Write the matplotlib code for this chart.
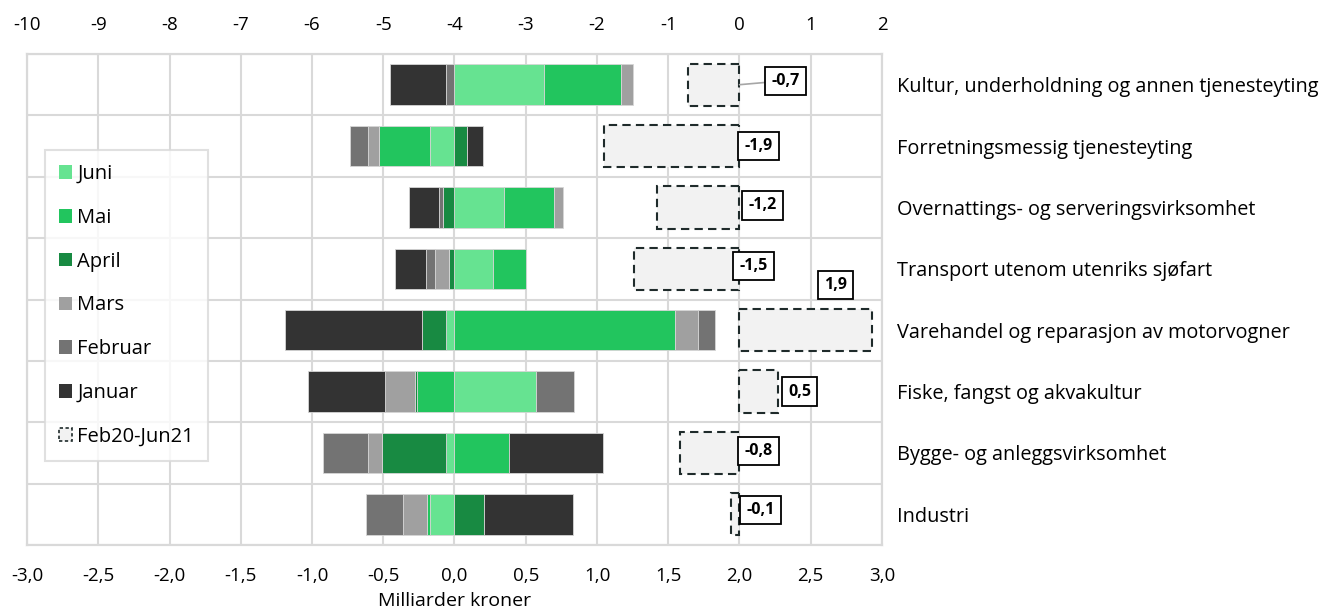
import numpy as np
import matplotlib
matplotlib.use('Agg')
from matplotlib import pyplot as plt
from matplotlib.patches import Patch
from matplotlib.ticker import FuncFormatter, MultipleLocator

plt.rcParams["font.family"] = ["Open Sans", "DejaVu Sans"]

categories = [
    "Kultur, underholdning og annen tjenesteyting",
    "Forretningsmessig tjenesteyting",
    "Overnattings- og serveringsvirksomhet",
    "Transport utenom utenriks sjøfart",
    "Varehandel og reparasjon av motorvogner",
    "Fiske, fangst og akvakultur",
    "Bygge- og anleggsvirksomhet",
    "Industri",
]

# monthly changes, billion NOK (stacked in this order)
juni    = [0.63, -0.17, 0.35, 0.27, -0.06, 0.57, -0.06, -0.17]
mai     = [0.54, -0.36, 0.35, 0.23, 1.55, -0.26, 0.38, -0.02]
april   = [0.00, 0.09, -0.08, -0.04, -0.17, -0.02, -0.45, 0.21]
mars    = [0.08, -0.08, 0.06, -0.10, 0.16, -0.21, -0.10, -0.17]
februar = [-0.06, -0.12, -0.03, -0.06, 0.12, 0.27, -0.31, -0.26]
januar  = [-0.39, 0.11, -0.21, -0.22, -0.96, -0.54, 0.66, 0.62]

# accumulated change Feb20-Jun21 (top axis)
total = [-0.72, -1.90, -1.16, -1.48, 1.86, 0.54, -0.83, -0.12]

series = [
    ("Juni", juni, "#66e391"),
    ("Mai", mai, "#22c55e"),
    ("April", april, "#188a42"),
    ("Mars", mars, "#a0a0a0"),
    ("Februar", februar, "#737373"),
    ("Januar", januar, "#333333"),
]

grid_col = "#d9d9d9"
box_fill = "#f2f2f2"
box_edge = "#1f2b2b"

fig = plt.figure(figsize=(13.25, 6.1), dpi=100)
ax = fig.add_axes([27 / 1325, 1 - 545 / 610, 855 / 1325, 491 / 610])
ax2 = ax.twiny()

y = np.arange(len(categories))
h = 0.66

pos_left = np.zeros(len(categories))
neg_left = np.zeros(len(categories))
for name, vals, col in series:
    vals = np.array(vals)
    left = np.where(vals >= 0, pos_left, neg_left)
    ax.barh(y, vals, left=left, height=h, color=col, edgecolor="#d6d6d6",
            linewidth=0.6, zorder=3)
    pos_left += np.clip(vals, 0, None)
    neg_left += np.clip(vals, None, 0)

ax2.barh(y, total, height=0.69, color=box_fill, edgecolor=box_edge,
         linewidth=1.5, linestyle=(0, (4, 2.5)), zorder=3)

# value boxes for the accumulated change (pixel offsets, y up)
label_offsets = [(32, 4), (5, 0), (9, 2), (0, 3), (-37, 45), (10, 0), (5, 2), (7, 4)]
for i, v in enumerate(total):
    dx, dy = label_offsets[i]
    ha = "center" if dy > 30 else "left"
    arrow = None
    if i == 0:
        arrow = dict(arrowstyle="-", color="#a6a6a6", lw=1.2,
                     shrinkA=0, shrinkB=0)
    ax2.annotate(f"{v:.1f}".replace(".", ","), xy=(max(v, 0), i),
                 xytext=(dx, dy), textcoords="offset pixels",
                 ha=ha, va="center", fontsize=11.5, fontweight="bold",
                 arrowprops=arrow, zorder=5,
                 bbox=dict(boxstyle="square,pad=0.38", fc="white",
                           ec="black", lw=1.3))

ax.set_xlim(-3, 3)
ax2.set_xlim(-10, 2)
ax.set_ylim(len(categories) - 0.5, -0.5)

ax.xaxis.set_major_locator(MultipleLocator(0.5))
ax.xaxis.set_major_formatter(FuncFormatter(lambda v, p: f"{v:.1f}".replace(".", ",")))
ax2.xaxis.set_major_locator(MultipleLocator(1))
ax2.xaxis.set_major_formatter(FuncFormatter(lambda v, p: f"{v:.0f}"))

ax.set_xticks(np.arange(-3, 3.01, 0.5))
ax.set_yticks(y)
ax.set_yticklabels(categories)
ax.yaxis.tick_right()
ax.set_yticks(np.arange(-0.5, len(categories), 1), minor=True)
ax.tick_params(axis="y", which="both", length=0, pad=11, labelsize=14.3, colors="#000000")
ax.tick_params(axis="x", length=0, pad=16, labelsize=13.5)
ax2.tick_params(axis="x", length=0, pad=14.5, labelsize=13.5)

ax.grid(axis="x", color=grid_col, lw=1.5, zorder=0)
ax.grid(axis="y", which="minor", color=grid_col, lw=1.5, zorder=0)
ax.grid(axis="y", which="major", visible=False)
ax2.grid(False)
for a in (ax, ax2):
    for s in a.spines.values():
        s.set_color(grid_col)
        s.set_linewidth(1.5)

ax.set_xlabel("Milliarder kroner", fontsize=14, labelpad=5)

handles = [Patch(facecolor=c, edgecolor="none", label=n) for n, _, c in series]
handles.append(Patch(facecolor=box_fill, edgecolor=box_edge, linestyle=(0, (2, 1.5)),
                     linewidth=1.2, label="Feb20-Jun21"))
leg = fig.legend(handles=handles, loc="upper left",
                 bbox_to_anchor=(45 / 1325, 1 - 150 / 610),
                 fontsize=14.5, frameon=True, fancybox=False, borderaxespad=0,
                 handlelength=0.65, handleheight=0.65, handletextpad=0.25,
                 labelspacing=1.18, borderpad=0.7)
leg.get_frame().set_edgecolor(grid_col)
leg.get_frame().set_linewidth(1.5)

fig.savefig("out.png", dpi=100, facecolor="white")
